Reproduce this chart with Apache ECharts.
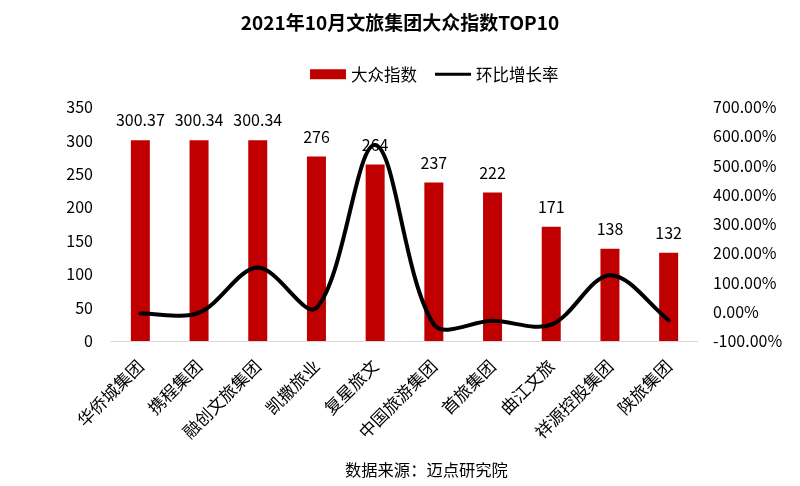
<!DOCTYPE html>
<html><head><meta charset="utf-8">
<script src="https://cdn.jsdelivr.net/npm/echarts@6/dist/echarts.min.js"></script>
<style>html,body{margin:0;padding:0;background:#fff}#c{width:800px;height:486px}</style>
</head><body><div id="c"></div>
<script>
var categories = ['华侨城集团','携程集团','融创文旅集团','凯撒旅业','复星旅文','中国旅游集团','首旅集团','曲江文旅','祥源控股集团','陕旅集团'];
var indexValues = [300.37, 300.34, 300.34, 276, 264, 237, 222, 171, 138, 132];
var growthValues = [-6, -3, 151, 13, 570, -43, -31, -44, 125, -29];
var leftTicks = [0, 350, 50];
var rightTicks = [-100, 700, 100];

var font = '"Noto Sans CJK SC", "Noto Sans", sans-serif';
var chart = echarts.init(document.getElementById('c'), null, {renderer: 'canvas'});

// smooth curve (length-weighted Catmull-Rom) drawn through the axis scales
function renderSmooth(params, api) {
  var n = growthValues.length;
  var i = params.dataIndex;
  if (i >= n - 1) return {type: 'group', children: []};
  function P(k) {
    k = Math.max(0, Math.min(n - 1, k));
    return api.coord([k, growthValues[k]]);
  }
  var K = 1 / 3;
  function ctrl(j) {
    var cur = P(j), prev = P(j - 1), next = P(j + 1);
    var vx = next[0] - prev[0], vy = next[1] - prev[1];
    var lp = Math.hypot(cur[0] - prev[0], cur[1] - prev[1]);
    var ln = Math.hypot(next[0] - cur[0], next[1] - cur[1]);
    var s = lp + ln || 1;
    return {
      out: [cur[0] + vx * K * ln / s, cur[1] + vy * K * ln / s],
      inn: [cur[0] - vx * K * lp / s, cur[1] - vy * K * lp / s]
    };
  }
  var a = P(i), b = P(i + 1);
  var ca = ctrl(i), cb = ctrl(i + 1);
  return {
    type: 'bezierCurve',
    shape: {x1: a[0], y1: a[1], x2: b[0], y2: b[1],
      cpx1: ca.out[0], cpy1: ca.out[1], cpx2: cb.inn[0], cpy2: cb.inn[1]},
    style: {stroke: '#000', lineWidth: 4, fill: 'none', lineCap: 'round'}
  };
}

chart.setOption({
  animation: false,
  backgroundColor: '#fff',
  title: {
    text: '2021年10月文旅集团大众指数TOP10',
    left: 'center', top: 8,
    textStyle: {fontSize: 19, fontWeight: 'bold', color: '#000', fontFamily: font}
  },
  legend: {
    top: 61, left: 305, itemGap: 18,
    itemWidth: 36, itemHeight: 10,
    textStyle: {fontSize: 16.5, color: '#000', fontFamily: font},
    data: [
      {name: '大众指数', icon: 'rect', itemStyle: {color: '#C00000'}},
      {name: '环比增长率', icon: 'path://M0,4 L36,4 L36,7 L0,7 Z', itemStyle: {color: '#000'}}
    ]
  },
  graphic: [{
    type: 'text', left: 345, top: 462,
    style: {text: '数据来源：迈点研究院', fill: '#000', font: '16.3px ' + font}
  }],
  grid: {left: 111, right: 102, top: 107, bottom: 145, containLabel: false},
  xAxis: {
    type: 'category', data: categories,
    axisLine: {lineStyle: {color: '#d9d9d9', width: 1}},
    axisTick: {show: false},
    axisLabel: {rotate: 45, fontSize: 17, color: '#000', fontFamily: font, interval: 0, margin: 22}
  },
  yAxis: [{
    type: 'value', min: leftTicks[0], max: leftTicks[1], interval: leftTicks[2],
    splitLine: {show: false}, axisLine: {show: false}, axisTick: {show: false},
    axisLabel: {fontSize: 16, color: '#000', fontFamily: font, margin: 18}
  }, {
    type: 'value', min: rightTicks[0], max: rightTicks[1], interval: rightTicks[2],
    splitLine: {show: false}, axisLine: {show: false}, axisTick: {show: false},
    axisLabel: {fontSize: 16, color: '#000', fontFamily: font, margin: 15,
      formatter: function (v) { return v.toFixed(2) + '%'; }}
  }],
  series: [{
    name: '大众指数', type: 'bar', data: indexValues, barWidth: 19,
    itemStyle: {color: '#C00000'},
    label: {show: true, position: 'top', distance: 12, fontSize: 16, color: '#000', fontFamily: font,
      formatter: function (p) { return String(p.value); }},
    z: 1
  }, {
    name: '环比增长率', type: 'custom', yAxisIndex: 1,
    data: growthValues.map(function (v, i) { return [i, v]; }),
    encode: {x: 0, y: 1},
    renderItem: renderSmooth,
    itemStyle: {color: '#000'},
    z: 3
  }]
});
</script></body></html>
